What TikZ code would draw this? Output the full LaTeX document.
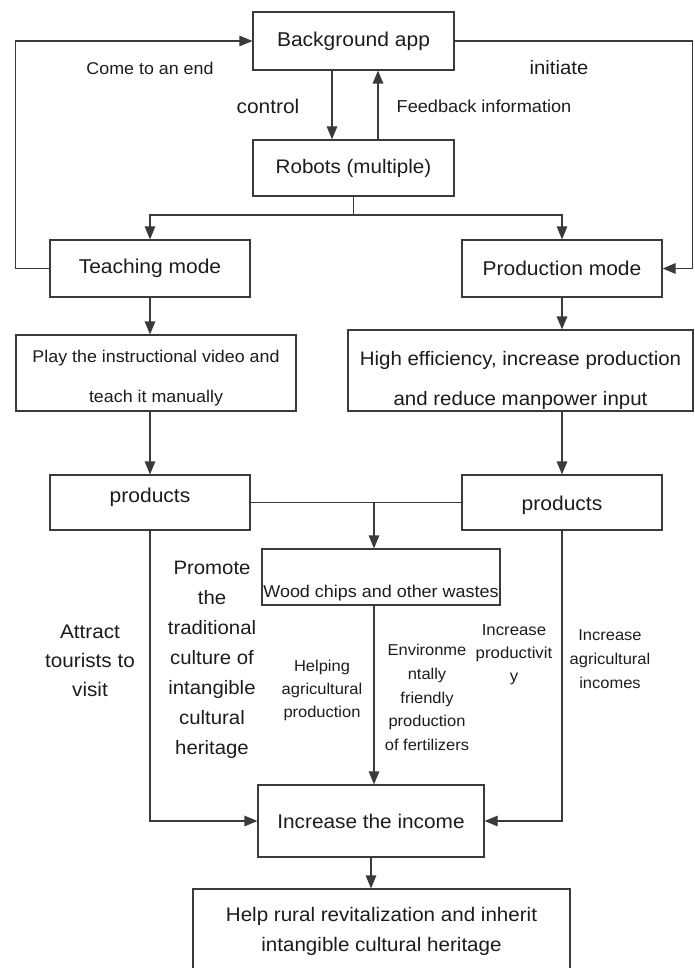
\documentclass[tikz,border=0pt]{standalone}
\usepackage{fontspec}
\setmainfont{Liberation Sans}[FakeStretch=1.05]
\usetikzlibrary{arrows.meta}
\definecolor{linegray}{HTML}{3A3A3A}
\definecolor{textgray}{HTML}{1C1C1C}

\begin{document}
\begin{tikzpicture}[x=1pt,y=-1pt]
	\tikzset{box/.style={draw=linegray, line width=1.2pt, inner sep=0pt, align=center, text=textgray, font=\fontsize{20}{24}\selectfont}}
	\tikzset{flow/.style={draw=linegray, line width=1.2pt, -{Triangle[length=13pt,width=10.5pt]}}}
	\tikzset{plain/.style={draw=linegray, line width=1.2pt}}
	\tikzset{note/.style={align=center, text=textgray, inner sep=0pt}}

	\useasboundingbox (0,0) rectangle (695,968);

	% boxes
	\node[box, minimum width=201, minimum height=58] (app) at (353.5,41) {Background app};
	\node[box, minimum width=201, minimum height=56, font=\fontsize{19.6}{24}\selectfont] (robots) at (353.5,168) {Robots (multiple)};
	\node[box, minimum width=200, minimum height=57] (teach) at (150,268.5) {Teaching mode};
	\node[box, minimum width=200, minimum height=57] (prod) at (562,268.5) {Production mode};
	\node[box, minimum width=280, minimum height=76, text height=62.4pt, font=\fontsize{17}{40}\selectfont] (play) at (156,373) {Play the instructional video and\\teach it manually};
	\node[box, minimum width=345, minimum height=81, text height=74.2pt, font=\fontsize{19.5}{40}\selectfont] (high) at (520.5,370.5) {High efficiency, increase production\\and reduce manpower input};
	\node[box, minimum width=200, minimum height=55] (prodL) at (150,502.5) {\raisebox{0pt}[0pt][0pt]{products}};
	\node[box, minimum width=200, minimum height=55] (prodR) at (562,502.5) {\raisebox{-8pt}[0pt][0pt]{products}};
	\node[box, minimum width=238, minimum height=56, font=\fontsize{17.1}{20}\selectfont] (wood) at (381,577) {\raisebox{-20pt}[0pt][0pt]{Wood chips and other wastes}};
	\node[box, minimum width=226, minimum height=72, font=\fontsize{19.8}{24}\selectfont] (income) at (371,821) {Increase the income};
	\node[box, minimum width=377, minimum height=84, font=\fontsize{19.6}{30}\selectfont] (help) at (381.5,931) {Help rural revitalization and inherit\\intangible cultural heritage};

	% labels
	\node[note, font=\fontsize{17}{20}\selectfont] (lend) at (150,68) {Come to an end};
	\node[note, font=\fontsize{19.3}{22}\selectfont] (linit) at (559,68) {initiate};
	\node[note, font=\fontsize{19.9}{22}\selectfont] (lctrl) at (268,106) {control};
	\node[note, font=\fontsize{17.3}{20}\selectfont] (lfeed) at (484,106) {Feedback information};
	\node[note, font=\fontsize{19.7}{29}\selectfont] (ltour) at (90,661) {Attract\\tourists to\\visit};
	\node[note, font=\fontsize{19.4}{30}\selectfont] (lprom) at (212,660) {Promote\\the\\traditional\\culture of\\intangible\\cultural\\heritage};
	\node[note, font=\fontsize{15.7}{23}\selectfont] (lhelp) at (322,690) {Helping\\agricultural\\production};
	\node[note, font=\fontsize{15.7}{23.75}\selectfont] (lenv) at (427,697.5) {Environme\\ntally\\friendly\\production\\of fertilizers};
	\node[note, font=\fontsize{16}{23}\selectfont] (lprod) at (514,655) {Increase\\productivit\\y};
	\node[note, font=\fontsize{15.7}{24}\selectfont] (lagri) at (610,659) {Increase\\agricultural\\incomes};

	% connectors
	\draw[flow] (teach.west) -- ++(-34,0) |- (app.west);
	\draw[flow] (app.east) -- ++(238,0) |- (prod.east);
	\draw[flow] ([xshift=-21.5pt]app.south) -- ([xshift=-21.5pt]robots.north);
	\draw[flow] ([xshift=24.5pt]robots.north) -- ([xshift=24.5pt]app.south);
	\coordinate (split) at (353.5,215);
	\draw[plain] (robots.south) -- (split);
	\draw[flow] (split) -| (teach.north);
	\draw[flow] (split) -| (prod.north);
	\draw[flow] (teach.south) -- (teach.south |- play.north);
	\draw[flow] (prod.south) -- (prod.south |- high.north);
	\draw[flow] (prodL.north |- play.south) -- (prodL.north);
	\draw[flow] (prodR.north |- high.south) -- (prodR.north);
	\coordinate (merge) at (374,502.5);
	\draw[plain] (prodL.east) -- (prodR.west);
	\draw[flow] (merge) -- (merge |- wood.north);
	\draw[flow] (merge |- wood.south) -- (merge |- income.north);
	\draw[flow] (prodL.south) |- (income.west);
	\draw[flow] (prodR.south) |- (income.east);
	\draw[flow] (income.south) -- (income.south |- help.north);
\end{tikzpicture}
\end{document}
